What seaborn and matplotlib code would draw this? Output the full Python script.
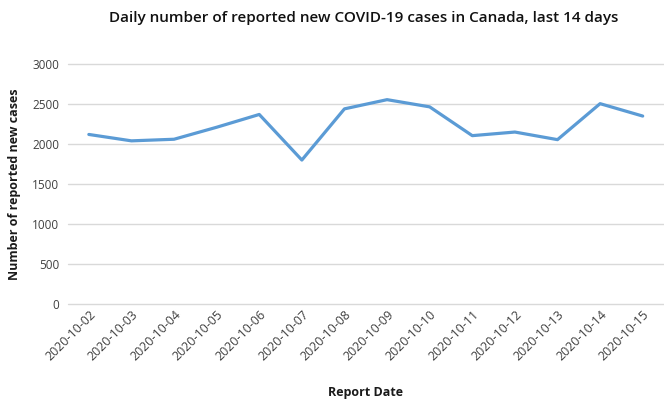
import pandas as pd
import seaborn as sns
import matplotlib.pyplot as plt

# daily new cases
report_dates = ['2020-10-02', '2020-10-03', '2020-10-04', '2020-10-05', '2020-10-06',
                '2020-10-07', '2020-10-08', '2020-10-09', '2020-10-10', '2020-10-11',
                '2020-10-12', '2020-10-13', '2020-10-14', '2020-10-15']
new_cases = [2120, 2040, 2060, 2210, 2370, 1800, 2440, 2555, 2465, 2105, 2150, 2055, 2505, 2350]
y_ticks = [0, 500, 1000, 1500, 2000, 2500, 3000]

df = pd.DataFrame({'date': report_dates, 'cases': new_cases})

sns.set_theme(style='white')
plt.rcParams['font.family'] = ['Open Sans', 'DejaVu Sans']

fig = plt.figure(figsize=(6.64, 4.03), dpi=100)
ax = fig.add_axes([0.1017, 0.2457, 0.8983, 0.5953])

sns.lineplot(data=df, x='date', y='cases', color='#5B9BD5', linewidth=2.3,
             sort=False, ax=ax)

ax.set_xlim(-0.5, len(report_dates) - 0.5)
ax.set_ylim(0, 3000)
ax.set_yticks(y_ticks)
ax.yaxis.grid(True, color='#D9D9D9', linewidth=1)
for gl in ax.get_ygridlines():
    gl.set_clip_on(False)
ax.set_axisbelow(True)
for s in ax.spines.values():
    s.set_visible(False)
ax.tick_params(axis='y', length=0, labelsize=8.5, colors='#404040', pad=6)
ax.tick_params(axis='x', length=0, labelsize=9, colors='#404040', pad=3)
plt.setp(ax.get_xticklabels(), rotation=45, ha='right', rotation_mode='anchor')

ax.set_xlabel('Report Date', fontsize=9, fontweight='bold', color='#1a1a1a', labelpad=16)
ax.set_ylabel('Number of reported new cases', fontsize=9, fontweight='bold', color='#1a1a1a', labelpad=8)
fig.text(0.547, 0.955, 'Daily number of reported new COVID-19 cases in Canada, last 14 days',
         ha='center', va='center', fontsize=11, fontweight='semibold', color='#111111')

plt.savefig('out.png', dpi=100)
